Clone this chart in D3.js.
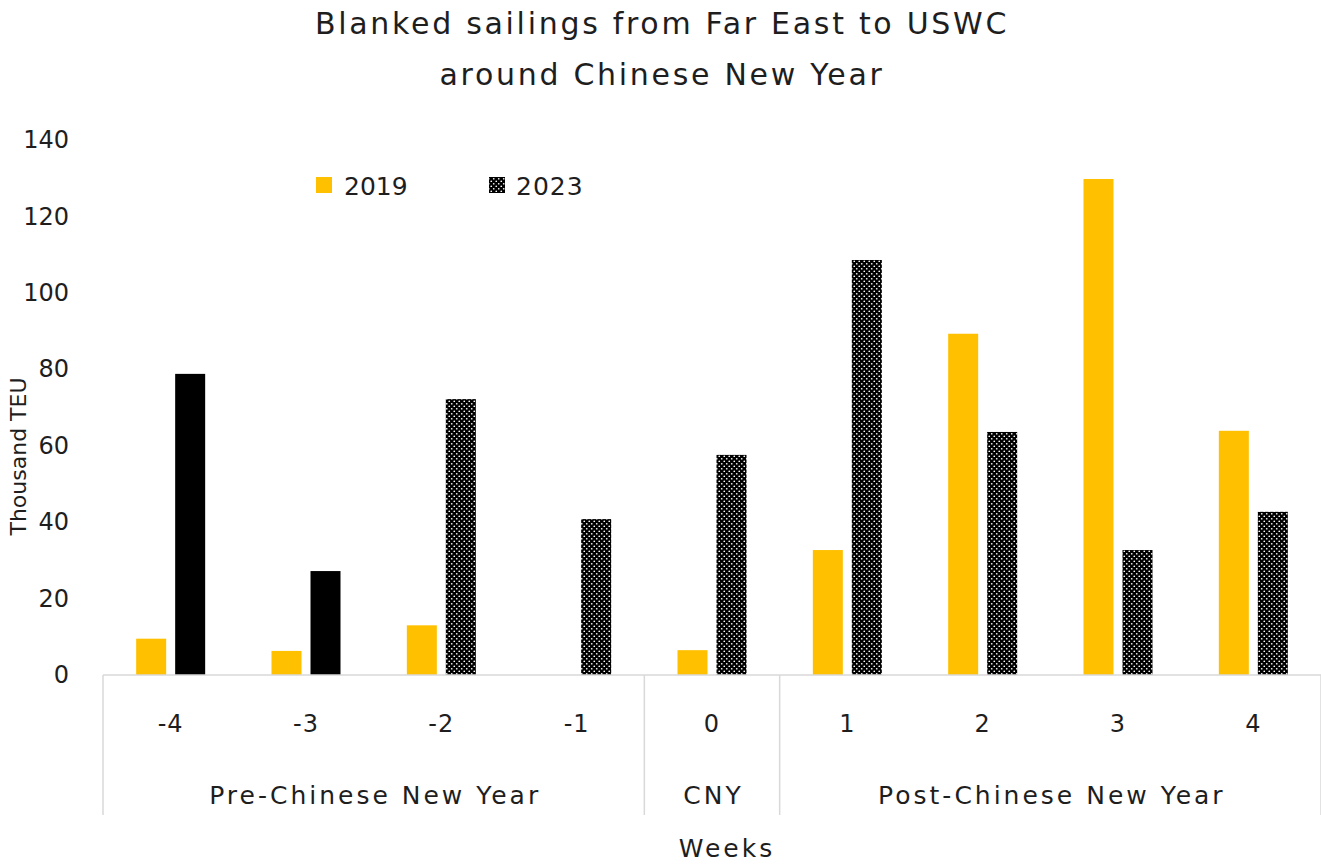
<!doctype html>
<html lang="en">
<head>
<meta charset="utf-8">
<script src="https://d3js.org/d3.v7.min.js"></script>
<style>
  body { margin: 0; background: #fff; }
  svg { display: block; font-family: "DejaVu Sans", sans-serif; }
  text { fill: #1e1e1e; }
</style>
</head>
<body>
<svg width="1321" height="865"></svg>
<script>
const weeks = ["-4", "-3", "-2", "-1", "0", "1", "2", "3", "4"];
const groups = [
  { name: "Pre-Chinese New Year", from: "-4", to: "-1" },
  { name: "CNY", from: "0", to: "0" },
  { name: "Post-Chinese New Year", from: "1", to: "4" }
];
const values2019 = [9.5, 6.3, 13, 0, 6.5, 32.7, 89.3, 129.8, 63.9];
const values2023 = [78.8, 27.2, 72.2, 40.8, 57.6, 108.6, 63.6, 32.7, 42.7];
// which 2023 bars are drawn solid instead of dotted
const solid2023 = ["-4", "-3"];
const yTicks = [0, 20, 40, 60, 80, 100, 120, 140];

const svg = d3.select("svg");
const margin = { top: 140, right: 0, bottom: 190, left: 103 };
const W = 1321, H = 865;
const width = W - margin.left - margin.right;
const height = H - margin.top - margin.bottom;

// dotted pattern
const defs = svg.append("defs");
const pat = defs.append("pattern")
  .attr("id", "dots")
  .attr("patternUnits", "userSpaceOnUse")
  .attr("width", 5).attr("height", 5);
pat.append("rect").attr("width", 5).attr("height", 5).attr("fill", "#000");
pat.append("circle").attr("cx", 1.25).attr("cy", 1.25).attr("r", 0.85).attr("fill", "#fff");
pat.append("circle").attr("cx", 3.75).attr("cy", 3.75).attr("r", 0.85).attr("fill", "#fff");

const g = svg.append("g").attr("transform", `translate(${margin.left},${margin.top})`);

const x = d3.scaleBand().domain(weeks).range([0, width]).padding(0);
const y = d3.scaleLinear().domain([0, 140]).range([height, 0]);

const barW = 30, gap = 9;

// title
svg.append("text").attr("x", 662).attr("y", 34).attr("text-anchor", "middle")
  .style("font-size", "30px").style("letter-spacing", "2.7px")
  .text("Blanked sailings from Far East to USWC");
svg.append("text").attr("x", 662).attr("y", 85).attr("text-anchor", "middle")
  .style("font-size", "30px").style("letter-spacing", "2.7px")
  .text("around Chinese New Year");

// y axis labels
const yAxis = g.append("g")
  .call(d3.axisLeft(y).tickValues(yTicks).tickSize(0).tickPadding(34));
yAxis.select(".domain").remove();
yAxis.selectAll("text").style("font-size", "24px").style("fill", "#1e1e1e")
  .style("font-family", "\"DejaVu Sans\", sans-serif");

svg.append("text")
  .attr("transform", `translate(26,${margin.top + height / 2 + 49}) rotate(-90)`)
  .attr("text-anchor", "middle").style("font-size", "22px").text("Thousand TEU");

// bars
const data = weeks.map((w, i) => ({ w, a: values2019[i], b: values2023[i] }));
g.selectAll(".b2019").data(data).enter().append("rect")
  .attr("x", d => x(d.w) + x.bandwidth() / 2 - barW - gap / 2)
  .attr("y", d => y(d.a))
  .attr("width", barW)
  .attr("height", d => height - y(d.a))
  .attr("fill", "#FFC000");
g.selectAll(".b2023").data(data).enter().append("rect")
  .attr("x", d => x(d.w) + x.bandwidth() / 2 + gap / 2)
  .attr("y", d => y(d.b))
  .attr("width", barW)
  .attr("height", d => height - y(d.b))
  .attr("fill", d => solid2023.includes(d.w) ? "#000" : "url(#dots)");

// category axis
const axisColor = "#d9d9d9";
g.append("line").attr("x1", 0).attr("x2", width).attr("y1", height).attr("y2", height)
  .attr("stroke", axisColor).attr("stroke-width", 1.5);
const sepLen = 140;
const seps = [0].concat(groups.map(gr => x(gr.to) + x.bandwidth()));
g.selectAll(".sep").data(seps).enter().append("line")
  .attr("x1", d => d).attr("x2", d => d)
  .attr("y1", height).attr("y2", height + sepLen)
  .attr("stroke", axisColor).attr("stroke-width", 1.5);

g.selectAll(".wk").data(weeks).enter().append("text")
  .attr("x", d => x(d) + x.bandwidth() / 2)
  .attr("y", height + 57)
  .attr("text-anchor", "middle").style("font-size", "24px")
  .style("letter-spacing", "1px")
  .text(d => d);

g.selectAll(".grp").data(groups).enter().append("text")
  .attr("x", d => (x(d.from) + x(d.to) + x.bandwidth()) / 2 + 1.5)
  .attr("y", height + 129)
  .attr("text-anchor", "middle").style("font-size", "25px")
  .style("letter-spacing", "3px")
  .text(d => d.name);

svg.append("text").attr("x", 727).attr("y", 857).attr("text-anchor", "middle")
  .style("font-size", "25px").style("letter-spacing", "3px").text("Weeks");

// legend
const legend = svg.append("g");
legend.append("rect").attr("x", 316).attr("y", 177).attr("width", 16).attr("height", 16).attr("fill", "#FFC000");
legend.append("text").attr("x", 344).attr("y", 195).style("font-size", "25px").text("2019");
legend.append("rect").attr("x", 489).attr("y", 177).attr("width", 16).attr("height", 16).attr("fill", "url(#dots)");
legend.append("text").attr("x", 516).attr("y", 195).style("font-size", "25px")
  .style("letter-spacing", "1px").text("2023");
</script>
</body>
</html>
